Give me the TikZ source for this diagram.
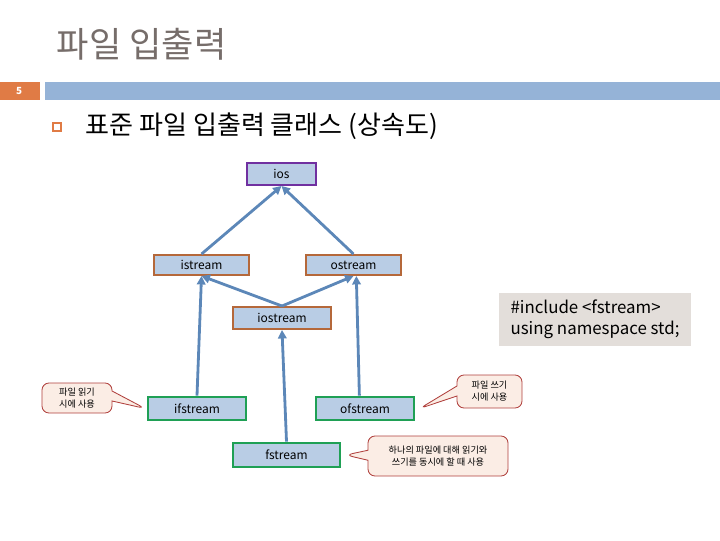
\documentclass[tikz,border=0pt]{standalone}
\usepackage{fontspec}
\setmainfont{Noto Sans CJK KR}
\usetikzlibrary{arrows.meta, positioning, shapes.callouts}

\definecolor{titlegray}{HTML}{766D6A}
\definecolor{barblue}{HTML}{95B3D7}
\definecolor{pageorange}{HTML}{E07B45}
\definecolor{boxfill}{HTML}{B9CDE5}
\definecolor{iospurple}{HTML}{7030A0}
\definecolor{basebrown}{HTML}{B5683A}
\definecolor{filegreen}{HTML}{1FA055}
\definecolor{linkblue}{HTML}{5C87B8}
\definecolor{notefill}{HTML}{FBEDE5}
\definecolor{noteline}{HTML}{B0403D}
\definecolor{codefill}{HTML}{E3DEDA}

\begin{document}
\begin{tikzpicture}[x=0.025cm, y=-0.025cm,
  cls/.style={rectangle, fill=boxfill, inner sep=0pt, font=\fontsize{8.5}{10}\selectfont},
  root/.style={cls, draw=iospurple, line width=1.4pt, minimum width=1.725cm, minimum height=0.55cm},
  base/.style={cls, draw=basebrown, line width=1.4pt, minimum height=0.5cm},
  file/.style={cls, draw=filegreen, line width=2pt, minimum height=0.575cm},
  inherit/.style={-{Triangle[length=6pt, width=6pt]}, draw=linkblue, line width=2pt},
  note/.style={rectangle callout, rounded corners=5pt, fill=notefill, draw=noteline,
               line width=0.6pt, align=center, inner sep=0pt,
               font=\fontsize{6.5}{8.5}\selectfont}
]
  \useasboundingbox (0,0) rectangle (720,540);

  % header
  \node[anchor=west, text=titlegray, font=\fontsize{25}{27}\selectfont] (title) at (52,44) {파일 입출력};
  \fill[pageorange] (0,82) rectangle (40,100);
  \fill[barblue] (45,82) rectangle (720,100);
  \node[text=white, font=\fontsize{7}{8}\selectfont\bfseries] (page) at (19,91) {5};
  \draw[pageorange, line width=0.9pt] (53,123) rectangle (61,131);
  \node[anchor=west, font=\fontsize{18.5}{21}\selectfont] (heading) at (81,126) {표준 파일 입출력 클래스 (상속도)};

  % classes
  \node[root] (ios) at (281.5,174) {ios};
  \node[base, minimum width=2.375cm] (istr) at (201.5,265) {istream};
  \node[base, minimum width=2.375cm] (ostr) at (353.5,265) {ostream};
  \node[base, minimum width=2.45cm, minimum height=0.55cm] (iostr) at (282,318) {iostream};
  \node[file, minimum width=2.45cm] (ifstr) at (197,408.5) {ifstream};
  \node[file, minimum width=2.45cm] (ofstr) at (365,408.5) {ofstream};
  \node[file, minimum width=2.675cm, minimum height=0.6cm] (fstr) at (286.5,455) {fstream};

  \draw[inherit] (istr.north) -- (ios.south);
  \draw[inherit] (ostr.north) -- (ios.south);
  \draw[inherit] (iostr.north) -- (istr.south);
  \draw[inherit] (iostr.north) -- (ostr.south);
  \draw[inherit] (ifstr.north) -- (istr.south);
  \draw[inherit] ([xshift=-4pt]ofstr.north) -- ([xshift=2pt]ostr.south);
  \draw[inherit] (fstr.north) -- (iostr.south);

  % notes
  \node[note, minimum width=1.75cm, minimum height=0.75cm,
        callout absolute pointer={([xshift=-1pt]ifstr.west)}] (readnote) at (77,398)
        {파일 읽기\\시에 사용};
  \node[note, minimum width=1.625cm, minimum height=0.825cm,
        callout absolute pointer={([xshift=3pt]ofstr.east)}] (writenote) at (489.5,391.5)
        {파일 쓰기\\시에 사용};
  \node[note, minimum width=3.5cm, minimum height=1cm,
        callout absolute pointer={([xshift=3pt]fstr.east)}] (bothnote) at (438,456)
        {하나의 파일에 대해 읽기와\\쓰기를 동시에 할 때 사용};

  \node[fill=codefill, minimum width=4.8cm, minimum height=1.325cm, align=left,
        font=\fontsize{12}{15}\selectfont] (code) at (595,319.5)
        {\#include <fstream>\\using namespace std;};
\end{tikzpicture}
\end{document}
